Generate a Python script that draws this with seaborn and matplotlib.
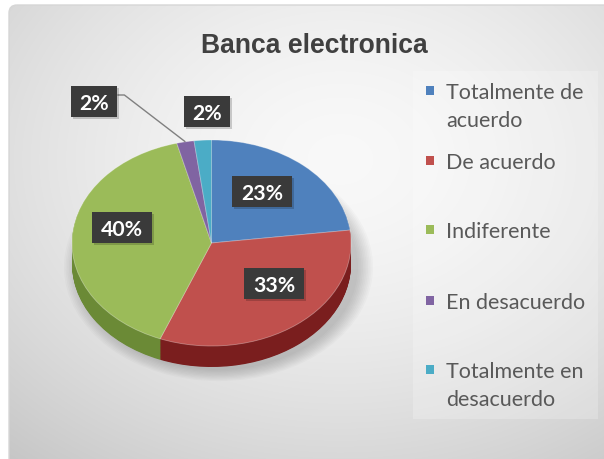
import textwrap

import numpy as np
import matplotlib
matplotlib.use("Agg")
import matplotlib.pyplot as plt
from matplotlib.patches import Rectangle, FancyBboxPatch, Ellipse
import seaborn as sns

# Survey answers about electronic banking
categories = ["Totalmente de acuerdo", "De acuerdo", "Indiferente",
              "En desacuerdo", "Totalmente en desacuerdo"]
shares = [23, 33, 40, 2, 2]
share_labels = ["23%", "33%", "40%", "2%", "2%"]
title_text = "Banca electronica"

sns.set_theme(style="white")
top_colors = sns.color_palette(["#4F81BD", "#C0504D", "#9BBB59", "#8064A2", "#4BACC6"])
side_colors = sns.color_palette(["#2f5483", "#7a1e1e", "#6b8a36", "#57427a", "#2c7f95"])

W, H = 604, 460
fig = plt.figure(figsize=(W / 100, H / 100), dpi=100)
fig.patch.set_facecolor("white")
renderer = fig.canvas.get_renderer()


def pixel_axes(z):
    ax = fig.add_axes([0, 0, 1, 1], zorder=z)
    ax.set_xlim(0, W)
    ax.set_ylim(H, 0)
    ax.axis("off")
    ax.patch.set_alpha(0)
    return ax


def fitted_size(text, target_px, **kw):
    t = fig.text(0, 0, text, fontsize=10, **kw)
    w = t.get_window_extent(renderer).width
    t.remove()
    return 10 * target_px / w


# ---- chart area background: soft radial gradient inside a rounded frame
bg = pixel_axes(0)
x0, y0, x1, y1 = 9, 6, W, H
yy, xx = np.mgrid[y0:y1, x0:x1]
dist = np.hypot((xx - 340) / 430, (yy - 160) / 330)
shade = np.clip(0.975 - 0.15 * dist ** 1.6, 0, 1)
im = bg.imshow(np.dstack([shade] * 3), extent=(x0, x1, y1, y0),
               interpolation="bilinear", zorder=0)
frame = FancyBboxPatch((x0, y0), x1 - x0 + 20, y1 - y0 + 20,
                       boxstyle="round,pad=0,rounding_size=8",
                       fc="none", ec="#d6d6d6", lw=1.0, zorder=1)
bg.add_patch(frame)
im.set_clip_path(frame)
bg.set_aspect("auto")
bg.set_xlim(0, W)
bg.set_ylim(H, 0)

# legend panel
bg.add_patch(Rectangle((413, 72), 185, 348, fc="white", ec="none", alpha=0.22, zorder=2))

# ---- 3D-looking pie: stacked darker layers for the wall, then the top face
cx, cy, rx, ry = 211.5, 244.0, 139.5, 103.0
depth = 21.0

# soft shadow under the pie
for i in range(10):
    grow = 1.0 + 0.012 * i
    bg.add_patch(Ellipse((cx + 7, cy + depth + 3), 2 * rx * grow, 2 * ry * grow,
                         fc="black", ec="none", alpha=0.02, zorder=3))

pie_ax = fig.add_axes([0, 0, 1, 1], zorder=1)
pie_ax.patch.set_alpha(0)
for k in np.linspace(depth / ry, 0, 36)[:-1]:
    pie_ax.pie(shares, colors=side_colors, startangle=90, counterclock=False,
               center=(0, -k), wedgeprops=dict(lw=0))
wedges, _ = pie_ax.pie(shares, colors=top_colors, startangle=90, counterclock=False,
                       wedgeprops=dict(lw=0.6, ec=(1, 1, 1, 0.35)))
pie_ax.set_aspect("auto")
pie_ax.set_xlim(-cx / rx, (W - cx) / rx)
pie_ax.set_ylim(-(H - cy) / ry, cy / ry)
pie_ax.axis("off")

# ---- texts on top
ov = pixel_axes(3)

title_size = fitted_size(title_text, 226, family="Liberation Sans", weight="bold")
ov.text(314, 53, title_text, fontsize=title_size, family="Liberation Sans",
        weight="bold", color="#404040", ha="center", va="baseline")

# value labels in dark boxes
label_size = fitted_size("23%", 42, family="Lato", weight="bold")
label_pos = [(262, 192), (274, 284), (122, 228), (94, 102), (207, 112)]
boxes = []
for text, (lx, ly) in zip(share_labels, label_pos):
    t = ov.text(lx, ly, text, fontsize=label_size, family="Lato", weight="bold",
                color="white", ha="center", va="center_baseline", zorder=6)
    tw = t.get_window_extent(renderer).width
    bw, bh = tw + 17, 31
    ov.add_patch(Rectangle((lx - bw / 2 + 2, ly - bh / 2 + 2), bw, bh,
                           fc="black", ec="none", alpha=0.18, zorder=4))
    ov.add_patch(Rectangle((lx - bw / 2, ly - bh / 2), bw, bh,
                           fc="#3a3a3a", ec="none", zorder=5))
    boxes.append((lx, ly, bw, bh))

# leader line for the small "En desacuerdo" slice
w = wedges[3]
mid = np.deg2rad((w.theta1 + w.theta2) / 2)
disp = pie_ax.transData.transform((np.cos(mid), np.sin(mid)))
tip = ov.transData.inverted().transform(disp)
lx, ly, bw, bh = boxes[3]
start_x = lx + bw / 2
ov.plot([start_x, start_x + 7, tip[0]], [ly - 6, ly - 6, tip[1]],
        color="#808080", lw=1.0, zorder=3.5, solid_capstyle="butt")

# legend
legend_size = fitted_size("Totalmente de", 138, family="Lato")
legend_rows = [99, 169, 238, 309, 378]
for cat, color, base in zip(categories, top_colors, legend_rows):
    ov.add_patch(Rectangle((426, base - 12), 8, 9, fc=color, ec="none", zorder=5))
    for j, line in enumerate(textwrap.wrap(cat, 13)):
        ov.text(446, base + 28 * j, line, fontsize=legend_size, family="Lato",
                color="#595959", ha="left", va="baseline", zorder=5)

fig.savefig("out.png", dpi=100)
